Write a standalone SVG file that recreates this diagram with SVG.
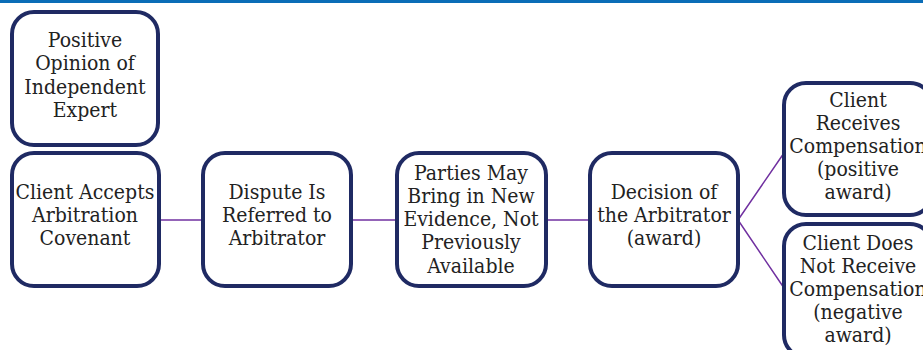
<svg xmlns="http://www.w3.org/2000/svg" width="923" height="350" viewBox="0 0 923 350">
<style>
.box{fill:#fff;stroke:#1f2a63;stroke-width:4}
.t{font-family:'DejaVu Serif Condensed','DejaVu Serif',serif;font-size:21px;fill:#222;text-anchor:middle}
.c{stroke:#7030a0;stroke-width:1.5;fill:none}
</style>
<rect x="0" y="0" width="923" height="350" fill="#fff"/>
<rect x="0" y="0" width="923" height="3" fill="#0b6db7"/>
<g id="connectors">
<line class="c" x1="159" y1="220" x2="203" y2="220"/>
<line class="c" x1="351" y1="220" x2="397" y2="220"/>
<line class="c" x1="546" y1="220" x2="590" y2="220"/>
<polyline class="c" points="784,153 738,220 784,288"/>
</g>
<g id="n1">
<rect class="box" x="12" y="12" width="146" height="133" rx="22"/>
<text class="t" x="85" y="47">Positive</text>
<text class="t" x="85" y="70">Opinion of</text>
<text class="t" x="85" y="94">Independent</text>
<text class="t" x="85" y="117">Expert</text>
</g>
<g id="n2">
<rect class="box" x="12" y="153" width="147" height="133" rx="22"/>
<text class="t" x="85" y="199">Client Accepts</text>
<text class="t" x="85" y="222">Arbitration</text>
<text class="t" x="85" y="245">Covenant</text>
</g>
<g id="n3">
<rect class="box" x="203" y="153" width="148" height="133" rx="22"/>
<text class="t" x="277" y="199">Dispute Is</text>
<text class="t" x="277" y="222">Referred to</text>
<text class="t" x="277" y="245">Arbitrator</text>
</g>
<g id="n4">
<rect class="box" x="397" y="153" width="149" height="133" rx="22"/>
<text class="t" x="471" y="180">Parties May</text>
<text class="t" x="471" y="203">Bring in New</text>
<text class="t" x="471" y="226">Evidence, Not</text>
<text class="t" x="471" y="249">Previously</text>
<text class="t" x="471" y="273">Available</text>
</g>
<g id="n5">
<rect class="box" x="590" y="153" width="148" height="133" rx="22"/>
<text class="t" x="664" y="199">Decision of</text>
<text class="t" x="664" y="222">the Arbitrator</text>
<text class="t" x="664" y="245">(award)</text>
</g>
<g id="n6">
<rect class="box" x="784" y="83" width="148" height="132" rx="22"/>
<text class="t" x="858" y="107">Client</text>
<text class="t" x="858" y="130">Receives</text>
<text class="t" x="858" y="153">Compensation</text>
<text class="t" x="858" y="176">(positive</text>
<text class="t" x="858" y="199">award)</text>
</g>
<g id="n7">
<rect class="box" x="784" y="224" width="148" height="133" rx="22"/>
<text class="t" x="858" y="250">Client Does</text>
<text class="t" x="858" y="273">Not Receive</text>
<text class="t" x="858" y="296">Compensation</text>
<text class="t" x="858" y="319">(negative</text>
<text class="t" x="858" y="342">award)</text>
</g>
</svg>
